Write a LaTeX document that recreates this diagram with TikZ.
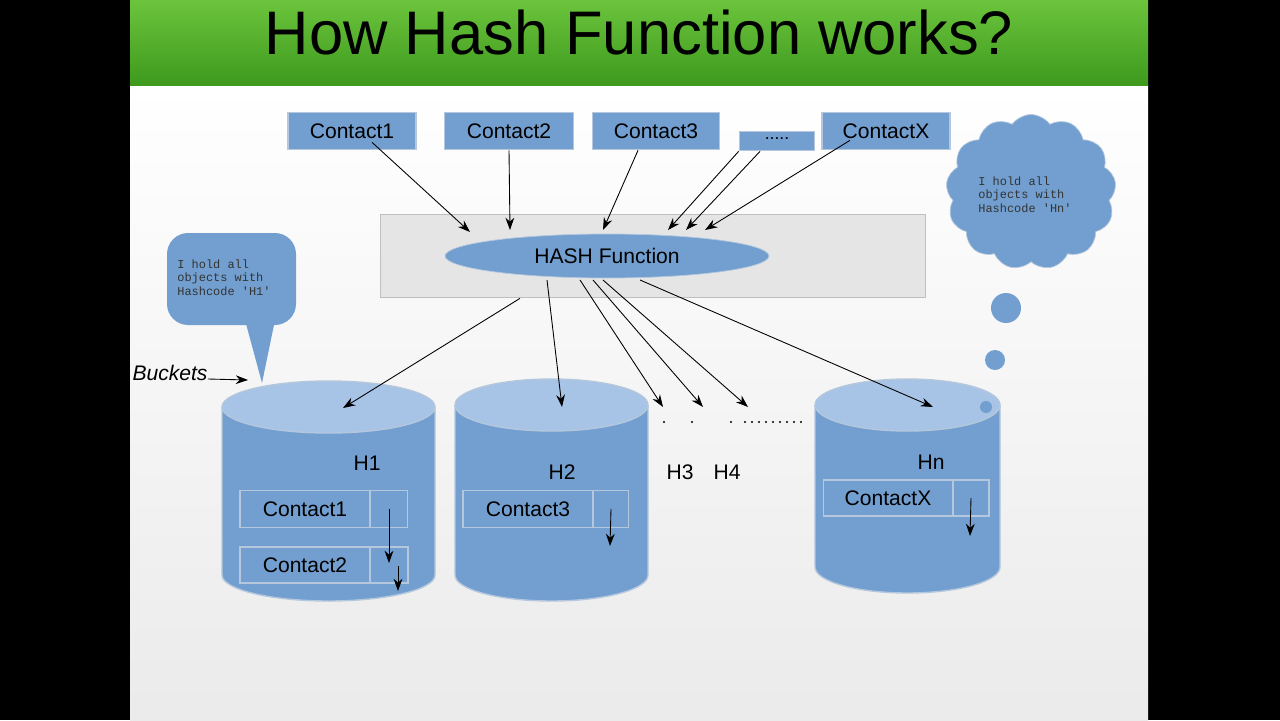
\documentclass[tikz,border=0pt]{standalone}
\usepackage{fontspec}
\setmainfont{Liberation Sans}
\newfontfamily\monof{Liberation Mono}
\usetikzlibrary{shapes.symbols,shapes.geometric,arrows.meta}
\definecolor{bl}{HTML}{729FCF}
\definecolor{bltop}{HTML}{A7C4E6}
\definecolor{bdr}{HTML}{B4C7DC}
\definecolor{gtop}{HTML}{6CC43C}
\definecolor{gbot}{HTML}{3E9A1E}
\tikzset{
 box/.style={draw=bdr,line width=1pt,fill=bl,minimum height=21pt,inner sep=0pt,font=\fontsize{12}{14}\selectfont},
 arr/.style={-{Stealth[length=7pt,width=5pt]},line width=0.5pt},
 mono/.style={font=\monof\fontsize{6.8}{7.8}\selectfont,align=left,text=black!80,inner sep=0pt},
 lab/.style={font=\fontsize{12}{14}\selectfont}
}
\newcommand{\cylinder}[5]{% x1 x2 ytop ry ybottom
 \fill[bl] (#1,#3) -- (#1,#5) arc[start angle=180,end angle=0,x radius={(#2-#1)/2},y radius=#4] -- (#2,#3) -- cycle;
 \draw[bdr,line width=0.8pt] (#1,#3) -- (#1,#5) arc[start angle=180,end angle=0,x radius={(#2-#1)/2},y radius=#4] -- (#2,#3);
 \draw[bdr,fill=bltop,line width=0.8pt] ({(#1+#2)/2},#3) ellipse[x radius={(#2-#1)/2},y radius=#4];
}
\begin{document}
\begin{tikzpicture}[x=0.02cm,y=-0.02cm]
\useasboundingbox (0,0) rectangle (1280,720);
\fill[black] (0,0) rectangle (1280,720);
\shade[top color=white,bottom color=black!8] (130,85) rectangle (1148,720);
\shade[top color=gtop,bottom color=gbot] (130,0) rectangle (1148,85);
\node[font=\fontsize{35}{40}\selectfont] (title) at (639,33) {How Hash Function works?};
% band
\fill[black!10,draw=black!25] (380,214) rectangle (925,297);
\node[ellipse,fill=bl,draw=bdr,inner sep=0pt,minimum width=6.48cm,minimum height=0.88cm,lab] (hash) at (607,256) {HASH Function};
% top boxes
\node[box,minimum width=2.56cm] (c1) at (352,131) {Contact1};
\node[box,minimum width=2.58cm] (c2) at (509,131) {Contact2};
\node[box,minimum width=2.54cm] (c3) at (656,131) {Contact3};
\node[box,minimum width=1.5cm,minimum height=0.38cm,font=\fontsize{10}{10}\selectfont] (cd) at (777,141) {\raisebox{3pt}{.....}};
\node[box,minimum width=2.56cm] (cx) at (886,131) {ContactX};
\draw[arr] (c1.south)++(20,-8) coordinate(a1) -- (470,232);
\draw[arr] (c2.south) -- (510,230);
\draw[arr] (c3.south)++(-18,0) coordinate(a3) -- (603,230);
\draw[arr] (cd.south west) -- (668,230);
\draw[arr] (cd.south)++(-17,0) coordinate(a4) -- (686,230);
\draw[arr] (cx.south)++(-36,-10) coordinate(a5) -- (705,230);
% cylinders
\cylinder{222}{435}{407}{26}{575}
\cylinder{455}{648}{405}{26}{575}
\cylinder{815}{1000}{405}{26}{567}
\node[lab] (h1) at (367,463) {H1};
\node[lab] (h2) at (562,472) {H2};
\node[lab] (h3) at (680,472) {H3};
\node[lab] (h4) at (727,472) {H4};
\node[lab] (hn) at (931,462) {Hn};
% records
\node[box,minimum width=2.6cm,minimum height=0.74cm] (r1) at (305,509) {Contact1};
\node[box,minimum width=0.74cm,minimum height=0.74cm] (p1) at (389,509) {};
\node[box,minimum width=2.6cm,minimum height=0.72cm] (r2) at (305,565) {Contact2};
\node[box,minimum width=0.76cm,minimum height=0.72cm] (p2) at (389,565) {};
\node[box,minimum width=2.6cm,minimum height=0.74cm] (r3) at (528,509) {Contact3};
\node[box,minimum width=0.7cm,minimum height=0.74cm] (p3) at (611,509) {};
\node[box,minimum width=2.58cm,minimum height=0.72cm] (rx) at (888,498) {ContactX};
\node[box,minimum width=0.72cm,minimum height=0.72cm] (px) at (971,498) {};
\draw[arr] (p1.center) -- (389,563);
\draw[arr] (398,566) -- (398,591);
\draw[arr] (p3.center) -- (610,546);
\draw[arr] (px.center) -- (970,536);
% arrows from hash
\draw[arr] (hash.south)++(-87,20) coordinate(b1) -- (343,408);
\draw[arr] (547,280) -- (562,407);
\draw[arr] (580,280) -- (663,407);
\draw[arr] (593,280) -- (703,407);
\draw[arr] (603,280) -- (748,407);
\draw[arr] (640,280) -- (933,407);
% dots
\foreach \x in {664,692,731} \fill (\x,422) circle (1.1);
\foreach \x in {745,752,...,805} \fill (\x,422) circle (1.1);
% left callout
\fill[bl,rounded corners=12pt] (167,233) rectangle (296,325);
\fill[bl] (245,320) -- (262,383) -- (275,320) -- cycle;
\node[mono,anchor=north west] (t1) at (177,259) {I hold all\\objects with\\Hashcode 'H1'};
\node[font=\itshape\fontsize{12}{14}\selectfont,inner sep=0pt] (bk) at (170,373) {Buckets};
\draw[arr] (bk.east) ++(0,6) coordinate(bk2) -- (248,380);
% cloud
\node[cloud,cloud puffs=13,cloud puff arc=110,aspect=1.1,fill=bl,draw=bdr,minimum width=3.4cm,minimum height=3.1cm,inner sep=0pt] (cl) at (1031,192) {};
\node[mono,anchor=north west] (t2) at (978,176) {I hold all\\objects with\\Hashcode 'Hn'};
\fill[bl] (1006,308) circle (15);
\fill[bl] (995,360) circle (10);
\fill[bl] (986,407) circle (6);
\end{tikzpicture}
\end{document}
